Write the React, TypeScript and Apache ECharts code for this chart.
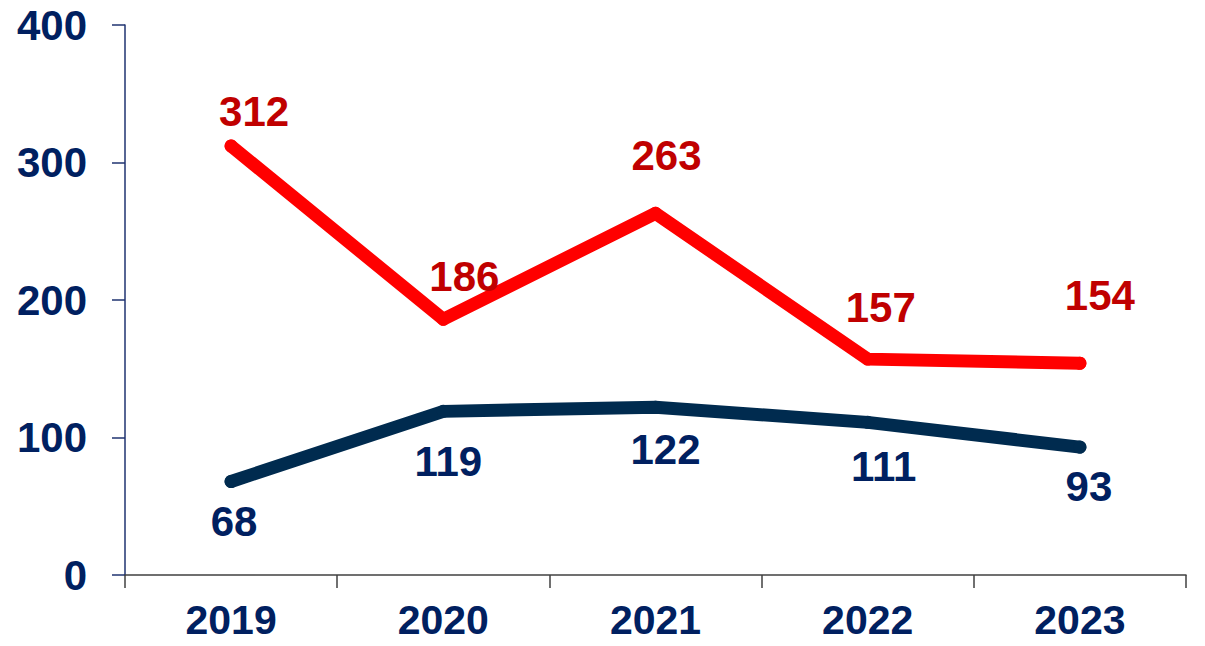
import React, { useEffect, useRef } from "react";
import * as echarts from "echarts";

const categories = ["2019", "2020", "2021", "2022", "2023"];
const redValues = [312, 186, 263, 157, 154];
const navyValues = [68, 119, 122, 111, 93];
const yTicks = { min: 0, max: 400, interval: 100 };

const FONT = 'Arial, "Liberation Sans", sans-serif';
const NAVY_TEXT = "#002060";
const RED_TEXT = "#C00000";
const FS = 42;

// label offsets relative to each point (pixels)
const redLabelOffsets = [[23, -35], [21, -43], [11, -58], [13, -52], [20, -68]];
const navyLabelOffsets = [[3, 40], [5, 50], [10, 42], [16, 44], [9, 39]];

export default function App() {
  const ref = useRef<HTMLDivElement>(null);
  useEffect(() => {
    document.body.style.margin = "0";
    const chart = echarts.init(ref.current!, null, { renderer: "svg" });
    const mk = (vals: number[], offs: number[][]) =>
      vals.map((v, i) => ({
        value: v,
        label: { offset: offs[i] },
      }));
    chart.setOption({
      animation: false,
      grid: { left: 125, right: 19, top: 25, bottom: 71, containLabel: false },
      xAxis: {
        type: "category",
        data: categories,
        boundaryGap: true,
        axisLine: { lineStyle: { color: "#404040", width: 1.5 } },
        axisTick: { show: true, length: 13, lineStyle: { color: "#404040", width: 1.5 } },
        axisLabel: {
          color: NAVY_TEXT,
          fontFamily: FONT,
          fontWeight: "bold",
          fontSize: 41,
          lineHeight: 34,
          margin: 28,
        },
      },
      yAxis: {
        type: "value",
        min: yTicks.min,
        max: yTicks.max,
        interval: yTicks.interval,
        splitLine: { show: false },
        axisLine: { show: true, lineStyle: { color: "#1F3370", width: 1.5 } },
        axisTick: { show: true, length: 13, lineStyle: { color: "#1F3370", width: 1.5 } },
        axisLabel: {
          color: NAVY_TEXT,
          fontFamily: FONT,
          fontWeight: "bold",
          fontSize: FS,
          margin: 38,
        },
      },
      series: [
        {
          type: "line",
          data: mk(navyValues, navyLabelOffsets),
          symbol: "circle",
          symbolSize: 13,
          itemStyle: { color: "#002B4F" },
          lineStyle: { color: "#002B4F", width: 13, cap: "round", join: "round" },
          label: {
            show: true,
            position: "inside",
            color: NAVY_TEXT,
            fontFamily: FONT,
            fontWeight: "bold",
            fontSize: FS,
          },
        },
        {
          type: "line",
          data: mk(redValues, redLabelOffsets),
          symbol: "circle",
          symbolSize: 13,
          itemStyle: { color: "#FF0000" },
          lineStyle: { color: "#FF0000", width: 13, cap: "round", join: "round" },
          label: {
            show: true,
            position: "inside",
            color: RED_TEXT,
            fontFamily: FONT,
            fontWeight: "bold",
            fontSize: FS,
          },
        },
      ],
    });
    return () => chart.dispose();
  }, []);
  return (
    <div
      ref={ref}
      style={{ position: "fixed", left: 0, top: 0, width: 1205, height: 646, background: "#fff" }}
    />
  );
}
